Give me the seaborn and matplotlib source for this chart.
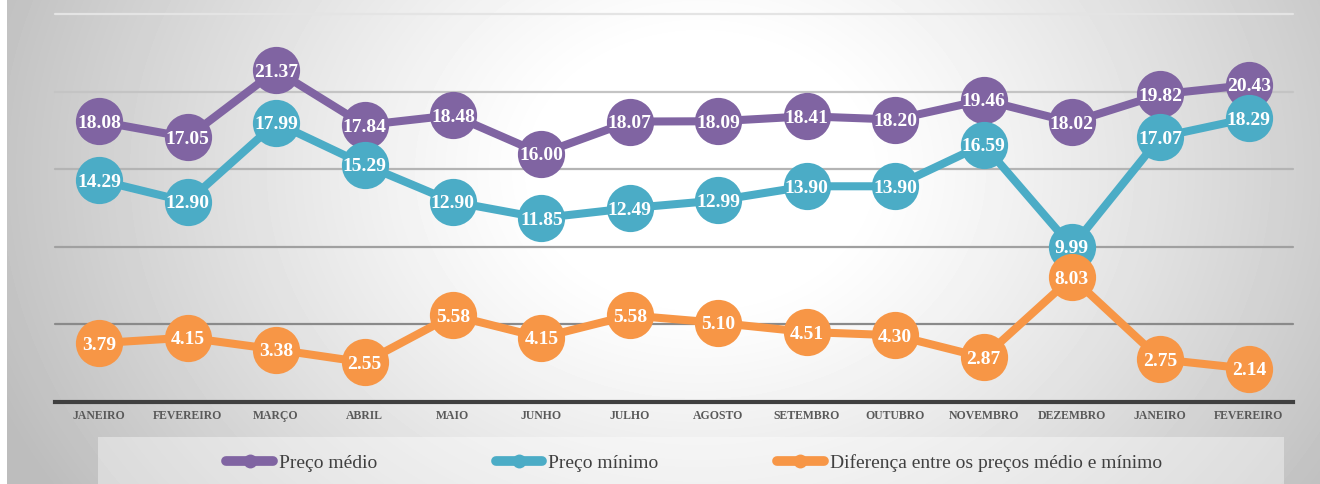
import numpy as np
import pandas as pd
import matplotlib
matplotlib.use("Agg")
import matplotlib.pyplot as plt
from matplotlib.lines import Line2D
from matplotlib.patches import Rectangle
import seaborn as sns

meses = ["JANEIRO", "FEVEREIRO", "MARÇO", "ABRIL", "MAIO", "JUNHO", "JULHO",
         "AGOSTO", "SETEMBRO", "OUTUBRO", "NOVEMBRO", "DEZEMBRO", "JANEIRO", "FEVEREIRO"]
preco_medio = [18.08, 17.05, 21.37, 17.84, 18.48, 16.00, 18.07, 18.09, 18.41, 18.20, 19.46, 18.02, 19.82, 20.43]
preco_minimo = [14.29, 12.90, 17.99, 15.29, 12.90, 11.85, 12.49, 12.99, 13.90, 13.90, 16.59, 9.99, 17.07, 18.29]
diferenca = [3.79, 4.15, 3.38, 2.55, 5.58, 4.15, 5.58, 5.10, 4.51, 4.30, 2.87, 8.03, 2.75, 2.14]
series_nomes = ["Preço médio", "Preço mínimo", "Diferença entre os preços médio e mínimo"]
cores = ["#8064a2", "#4bacc6", "#f79646"]

sns.set_theme(style="white")
plt.rcParams["font.family"] = ["Liberation Serif", "DejaVu Serif"]

W, H = 1320, 484
fig = plt.figure(figsize=(W / 100, H / 100), dpi=100)
fig.patch.set_facecolor("white")

# radial gradient background
bg = fig.add_axes([7 / W, 0, (W - 7) / W, 1], zorder=-10)
xx, yy = np.meshgrid(np.arange(7, W), np.arange(H))
cx, cy = 700, 170
d = np.sqrt(((xx - cx) / 1.0) ** 2 + ((yy - cy) / 0.8) ** 2)
t = np.clip((d - 160) / 600, 0, 1) ** 1.15
img = 1 - 0.26 * t
bg.imshow(img, cmap="gray", vmin=0, vmax=1, aspect="auto", interpolation="bilinear")
bg.axis("off")

# legend box
fig.patches.append(Rectangle((98 / W, 0), (1284 - 98) / W, (484 - 437) / H,
                             transform=fig.transFigure, facecolor="white",
                             alpha=0.4, edgecolor="none", zorder=-5))

ax = fig.add_axes([55 / W, 82 / H, (1293 - 55) / W, (402 - 14) / H])
ax.set_facecolor("none")

n = len(meses)
idx = list(range(n))
df = pd.DataFrame({
    "x": idx * 3,
    "valor": preco_medio + preco_minimo + diferenca,
    "serie": [series_nomes[0]] * n + [series_nomes[1]] * n + [series_nomes[2]] * n,
})

grid_cols = {5: "#8a8a8a", 10: "#a0a0a0", 15: "#b4b4b4", 20: "#c4c4c4", 25: "#e4e4e4"}
for yv, c in grid_cols.items():
    ax.axhline(yv, color=c, lw=1.6, zorder=0.5, clip_on=False)

sns.lineplot(data=df, x="x", y="valor", hue="serie", palette=cores, marker="o",
             markersize=34, linewidth=5.8, markeredgewidth=0, legend=False,
             sort=False, ax=ax)

for vals in (preco_medio, preco_minimo, diferenca):
    for i, v in enumerate(vals):
        ax.text(i, v, f"{v:.2f}", ha="center", va="center_baseline", color="white",
                fontsize=14, fontweight="bold", zorder=5)

ax.set_xlim(-0.5, n - 0.5)
ax.set_ylim(0, 25)
ax.set_xticks(idx)
ax.set_xticklabels(meses, fontsize=8.5, fontweight="bold", color="#595959")
ax.set_yticks([])
ax.tick_params(axis="x", length=0, pad=6)
ax.set_xlabel("")
ax.set_ylabel("")
for s in ["top", "left", "right"]:
    ax.spines[s].set_visible(False)
ax.spines["bottom"].set_color("#404040")
ax.spines["bottom"].set_linewidth(3)
ax.spines["bottom"].set_zorder(1)

handles = [Line2D([0], [0], color=c, lw=7, marker="o", markersize=10,
                  markeredgewidth=0, solid_capstyle="round") for c in cores]
leg = fig.legend(handles, series_nomes, loc="center", bbox_to_anchor=(694 / W, 1 - 463 / H),
                 ncol=3, frameon=False, fontsize=14, handlelength=2.4,
                 handletextpad=0.3, columnspacing=6.1)
for tx in leg.get_texts():
    tx.set_color("#404040")

fig.savefig("out.png", dpi=100)
